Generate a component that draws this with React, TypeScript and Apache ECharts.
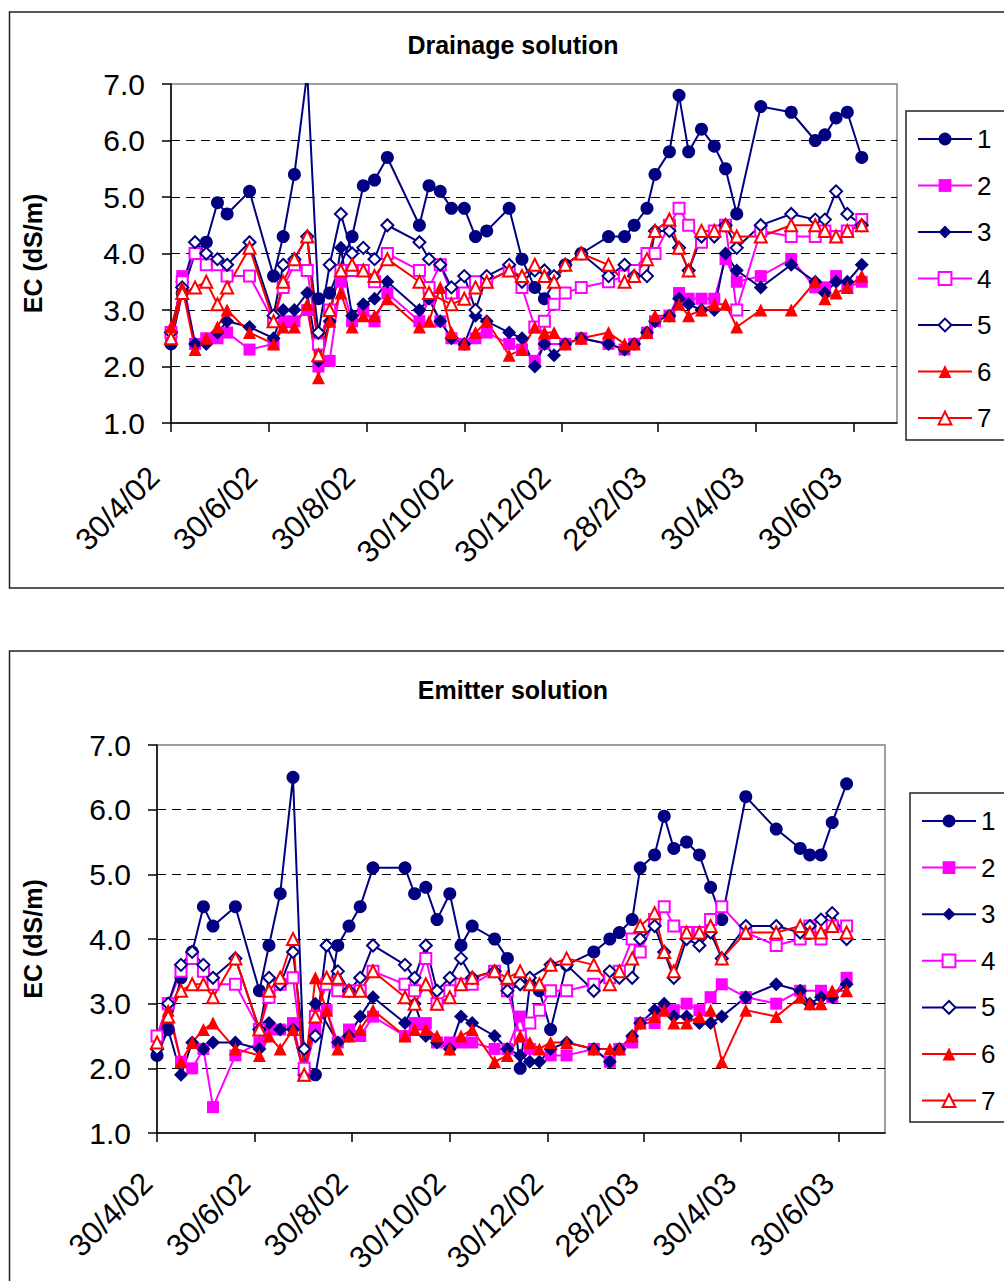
import React, { useEffect, useRef } from "react";
import * as echarts from "echarts";

// Sampling days, counted from 30/4/02
const DAYS = [0, 7, 15, 22, 29, 35, 49, 64, 70, 77, 85, 92, 99, 106, 113, 120, 127, 135, 155, 161, 168, 175, 183, 190, 197, 211, 219, 227, 233, 239, 246, 256, 273, 283, 289, 297, 302, 311, 317, 323, 331, 339, 346, 353, 368, 387, 402, 408, 415, 422, 431];

// Date ticks (days from 30/4/02) and their labels
const TICK_DAYS = [0, 61, 122, 183, 244, 304, 365, 426];
const TICK_LABELS = ["30/4/02", "30/6/02", "30/8/02", "30/10/02", "30/12/02", "28/2/03", "30/4/03", "30/6/03"];

const SERIES_NAMES = ["1", "2", "3", "4", "5", "6", "7"];

// Drainage solution EC (dS/m)
const DRAIN_1 = [2.4, 3.3, 4.0, 4.2, 4.9, 4.7, 5.1, 3.6, 4.3, 5.4, 7.2, 3.2, 3.3, null, 4.3, 5.2, 5.3, 5.7, 4.5, 5.2, 5.1, 4.8, 4.8, 4.3, 4.4, 4.8, 3.9, 3.4, 3.2, null, 3.8, 4.0, 4.3, 4.3, 4.5, 4.8, 5.4, 5.8, 6.8, 5.8, 6.2, 5.9, 5.5, 4.7, 6.6, 6.5, 6.0, 6.1, 6.4, 6.5, 5.7];
const DRAIN_2 = [2.5, 3.6, 2.4, 2.5, 2.5, 2.6, 2.3, 2.4, 2.8, 2.8, 3.0, 2.0, 2.1, 3.5, 2.8, 3.0, 2.8, 3.3, 2.8, 3.2, 2.8, 2.5, 2.4, 2.5, 2.6, 2.4, 2.3, 2.1, 2.4, null, 2.4, 2.5, 2.4, 2.3, 2.4, 2.6, 2.8, 2.9, 3.3, 3.2, 3.2, 3.2, 3.9, 3.5, 3.6, 3.9, 3.4, 3.4, 3.6, 3.4, 3.5];
const DRAIN_3 = [2.6, 3.5, 2.4, 2.4, 2.6, 2.8, 2.7, 2.5, 3.0, 3.0, 3.3, 2.1, 2.8, 4.1, 2.9, 3.1, 3.2, 3.5, 3.0, 3.2, 2.8, 2.5, 2.4, 2.9, 2.8, 2.6, 2.5, 2.0, 2.4, 2.2, 2.4, 2.5, 2.4, 2.3, 2.4, 2.6, 2.8, 2.9, 3.2, 3.1, 3.0, 3.0, 4.0, 3.7, 3.4, 3.8, 3.5, 3.3, 3.5, 3.5, 3.8];
const DRAIN_4 = [2.6, 3.5, 4.0, 3.8, 3.8, 3.6, 3.6, 2.8, 3.4, 3.8, 3.7, 2.4, 3.0, 3.7, 3.7, 3.7, 3.5, 4.0, 3.7, 3.4, 3.8, 3.3, 3.3, 3.5, 3.5, 3.7, 3.4, 2.7, 2.8, 3.1, 3.3, 3.4, 3.5, 3.6, 3.7, 4.0, 4.0, 4.5, 4.8, 4.5, 4.2, 4.4, 4.5, 3.0, 4.4, 4.3, 4.3, 4.4, 4.3, 4.4, 4.6];
const DRAIN_5 = [2.6, 3.4, 4.2, 4.0, 3.9, 3.8, 4.2, 2.9, 3.8, 3.9, 4.3, 2.6, 3.8, 4.7, 4.0, 4.1, 3.9, 4.5, 4.2, 3.9, 3.8, 3.4, 3.6, 3.0, 3.6, 3.8, 3.5, 3.7, 3.7, 3.6, 3.8, 4.0, 3.6, 3.8, 3.6, 3.6, 4.4, 4.4, 4.1, 3.7, 4.3, 4.3, 4.5, 4.1, 4.5, 4.7, 4.6, 4.6, 5.1, 4.7, 4.5];
const DRAIN_6 = [2.7, 3.4, 2.3, 2.5, 2.7, 3.0, 2.6, 2.4, 2.7, 2.7, 3.1, 1.8, 2.8, 3.3, 2.7, 2.9, 2.9, 3.2, 2.7, 2.8, 3.4, 2.6, 2.4, 2.6, 2.8, 2.2, 2.3, 2.7, 2.6, 2.6, 2.4, 2.5, 2.6, 2.4, 2.4, 2.6, 2.9, 2.9, 3.1, 2.9, 3.0, 3.1, 3.1, 2.7, 3.0, 3.0, 3.5, 3.2, 3.3, 3.4, 3.6];
const DRAIN_7 = [2.5, 3.3, 3.4, 3.5, 3.1, 3.4, 4.1, 2.8, 3.5, 3.9, 4.3, 2.2, 3.0, 3.7, 3.8, 3.7, 3.6, 3.9, 3.5, 3.3, null, 3.1, 3.2, 3.4, 3.5, 3.7, 3.6, 3.8, 3.6, 3.5, 3.8, 4.0, 3.8, 3.5, 3.6, 3.9, 4.4, 4.6, 4.1, 3.7, 4.4, 4.4, 4.5, 4.3, 4.3, 4.5, 4.5, 4.4, 4.3, 4.4, 4.5];

// Emitter solution EC (dS/m)
const EMIT_1 = [2.2, 2.6, 3.4, 3.8, 4.5, 4.2, 4.5, 3.2, 3.9, 4.7, 6.5, 2.0, 1.9, null, 3.9, 4.2, 4.5, 5.1, 5.1, 4.7, 4.8, 4.3, 4.7, 3.9, 4.2, 4.0, 3.7, 2.0, 3.3, 3.2, 2.6, 3.6, 3.8, 4.0, 4.1, 4.3, 5.1, 5.3, 5.9, 5.4, 5.5, 5.3, 4.8, 4.3, 6.2, 5.7, 5.4, 5.3, 5.3, 5.8, 6.4];
const EMIT_2 = [2.5, 3.0, 2.1, 2.0, 2.3, 1.4, 2.2, 2.4, 2.6, 2.6, 2.7, 1.9, 2.6, 2.9, 2.4, 2.6, 2.5, 2.8, 2.5, 2.7, 2.7, 2.4, 2.4, 2.4, 2.4, 2.3, 2.3, 2.8, 2.3, null, 2.2, 2.2, 2.3, 2.1, 2.3, 2.4, 2.7, 2.7, 2.9, 2.9, 3.0, 2.9, 3.1, 3.3, 3.1, 3.0, 3.2, null, 3.2, 3.1, 3.4];
const EMIT_3 = [2.3, 2.6, 1.9, 2.4, 2.3, 2.4, 2.4, 2.3, 2.7, 2.6, 2.6, 1.9, 3.0, null, 2.4, 2.5, 2.8, 3.1, 2.7, 3.0, 2.5, 2.4, 2.3, 2.8, 2.7, 2.5, 2.3, 2.2, 2.1, 2.1, 2.3, 2.4, 2.3, 2.1, 2.3, 2.5, 2.7, 2.9, 3.0, 2.8, 2.8, 2.7, 2.7, 2.8, 3.1, 3.3, 3.2, 3.0, 3.1, 3.1, 3.3];
const EMIT_4 = [2.5, 3.0, 3.5, 3.7, 3.5, 3.3, 3.3, 2.6, 3.1, 3.3, 3.4, 2.0, 2.8, 3.3, 3.2, 3.2, 3.2, 3.5, 3.3, 3.2, 3.7, 3.0, 3.2, 3.3, 3.3, 3.5, 3.2, 2.5, 2.7, 2.9, 3.2, 3.2, 3.3, 3.4, 3.5, 4.0, 3.8, 4.3, 4.5, 4.2, 4.1, 4.1, 4.3, 4.5, 4.1, 3.9, 4.0, 4.2, 4.0, 4.2, 4.2];
const EMIT_5 = [2.3, 3.0, 3.6, 3.8, 3.6, 3.4, 3.7, 2.6, 3.4, 3.3, 3.8, 2.3, 2.5, 3.9, 3.5, 3.2, 3.4, 3.9, 3.6, 3.4, 3.9, 3.2, 3.4, 3.7, 3.4, 3.5, 3.2, 3.3, 3.4, null, 3.6, 3.6, 3.2, 3.5, 3.4, 3.4, 4.0, 4.2, 3.8, 3.4, 4.0, 3.9, 4.1, 3.7, 4.2, 4.2, 4.1, 4.2, 4.3, 4.4, 4.0];
const EMIT_6 = [2.4, 2.9, 2.1, 2.4, 2.6, 2.7, 2.3, 2.2, 2.5, 2.3, 2.6, 1.9, 3.4, 2.9, 2.3, 2.5, 2.6, 2.9, 2.5, 2.6, 2.6, 2.5, 2.3, 2.5, 2.6, 2.1, 2.2, 2.5, 2.4, 2.3, 2.4, 2.4, 2.3, 2.3, 2.3, 2.5, 2.7, 2.8, 2.9, 2.7, 2.7, 2.8, 2.9, 2.1, 2.9, 2.8, 3.1, 3.0, 3.0, 3.2, 3.2];
const EMIT_7 = [2.4, 2.8, 3.2, 3.3, 3.3, 3.1, 3.7, 2.6, 3.2, 3.4, 4.0, 1.9, 2.8, 3.4, 3.4, 3.2, 3.2, 3.5, 3.1, 3.0, 3.3, 3.0, 3.1, 3.3, 3.4, 3.5, 3.4, 3.5, 3.3, 3.3, 3.6, 3.7, 3.6, 3.3, 3.5, 3.7, 4.2, 4.4, 3.8, 3.5, 4.1, 4.1, 4.2, 3.7, 4.1, 4.1, 4.2, 4.1, 4.1, 4.2, 4.1];

const DRAINAGE = [DRAIN_1, DRAIN_2, DRAIN_3, DRAIN_4, DRAIN_5, DRAIN_6, DRAIN_7];
const EMITTER = [EMIT_1, EMIT_2, EMIT_3, EMIT_4, EMIT_5, EMIT_6, EMIT_7];

const NAVY = "#000080";
const MAGENTA = "#FF00FF";
const RED = "#FF0000";
const FONT = "'Liberation Sans', Arial, sans-serif";

const MARKERS = [
  { color: NAVY, symbol: "circle", size: 13 },
  { color: MAGENTA, symbol: "rect", size: 12 },
  { color: NAVY, symbol: "diamond", size: 14 },
  { color: MAGENTA, symbol: "emptyRect", size: 11 },
  { color: NAVY, symbol: "emptyDiamond", size: 12 },
  { color: RED, symbol: "triangle", size: 13 },
  { color: RED, symbol: "emptyTriangle", size: 12 },
];

function toPairs(values: (number | null)[]) {
  const out: [number, number][] = [];
  values.forEach((v, i) => {
    if (v !== null) out.push([DAYS[i], v]);
  });
  return out;
}

function buildSeries(sets: (number | null)[][], axisIndex: number) {
  return sets.map((vals, i) => ({
    name: SERIES_NAMES[i],
    type: "line",
    xAxisIndex: axisIndex,
    yAxisIndex: axisIndex,
    data: toPairs(vals),
    symbol: MARKERS[i].symbol,
    symbolSize: MARKERS[i].size,
    showAllSymbol: true,
    lineStyle: { color: MARKERS[i].color, width: 2 },
    itemStyle: { color: MARKERS[i].color },
    emphasis: { disabled: true },
  }));
}

function xAxis(gridIndex: number, max: number, margin: number, shift: number) {
  return {
    type: "value",
    gridIndex,
    min: 0,
    max,
    axisLine: { show: true, lineStyle: { color: "#000", width: 1.5 } },
    axisTick: { show: true, customValues: TICK_DAYS, length: 9, lineStyle: { color: "#000", width: 1.5 } },
    axisLabel: {
      customValues: TICK_DAYS,
      rotate: 45,
      margin,
      padding: [0, shift, 0, 0],
      fontSize: 31,
      fontFamily: FONT,
      color: "#000",
      formatter: (v: number) => {
        const k = TICK_DAYS.indexOf(Math.round(v));
        return k >= 0 ? TICK_LABELS[k] : "";
      },
    },
    splitLine: { show: false },
  };
}

function yAxis(gridIndex: number, nameGap: number) {
  return {
    type: "value",
    gridIndex,
    min: 1,
    max: 7,
    interval: 1,
    name: "EC (dS/m)",
    nameLocation: "middle",
    nameRotate: 90,
    nameGap,
    nameTextStyle: { fontSize: 25, fontWeight: "bold", fontFamily: FONT, color: "#000" },
    axisLine: { show: true, lineStyle: { color: "#000", width: 1.5 } },
    axisTick: { show: true, length: 9, lineStyle: { color: "#000", width: 1.5 } },
    axisLabel: {
      margin: 26,
      fontSize: 30,
      fontFamily: FONT,
      color: "#000",
      formatter: (v: number) => v.toFixed(1),
    },
    splitLine: {
      show: true,
      showMinLine: false,
      showMaxLine: false,
      lineStyle: { color: "#000", width: 1, type: [9, 6] },
    },
  };
}

function legend(left: number, top: number, gap: number) {
  return {
    orient: "vertical",
    left,
    top,
    padding: 0,
    itemWidth: 54,
    itemHeight: 16,
    itemGap: gap,
    data: SERIES_NAMES,
    selectedMode: false,
    textStyle: { fontSize: 26, lineHeight: 26, fontFamily: FONT, color: "#000" },
  };
}

function titleText(text: string, x: number, y: number) {
  return {
    type: "text",
    x,
    y,
    style: {
      text,
      fill: "#000",
      font: `bold 25px ${FONT}`,
      align: "center",
      verticalAlign: "middle",
    },
  };
}

function frame(x: number, y: number, w: number, h: number, lw: number) {
  return {
    type: "rect",
    shape: { x, y, width: w, height: h },
    style: { fill: "none", stroke: "#222", lineWidth: lw },
    silent: true,
  };
}

export default function App() {
  const ref = useRef<HTMLDivElement>(null);

  useEffect(() => {
    if (!ref.current) return;
    const chart = echarts.init(ref.current, null, { renderer: "svg" });
    chart.setOption({
      animation: false,
      backgroundColor: "#fff",
      textStyle: { fontFamily: FONT },
      grid: [
        { left: 171, top: 84, width: 726, height: 339, show: true, borderColor: "#808080", borderWidth: 1.5, backgroundColor: "transparent" },
        { left: 157, top: 745, width: 728, height: 388, show: true, borderColor: "#808080", borderWidth: 1.5, backgroundColor: "transparent" },
      ],
      xAxis: [xAxis(0, 453, 32, 24), xAxis(1, 455, 35, 14)],
      yAxis: [yAxis(0, 126), yAxis(1, 112)],
      legend: [legend(917, 126, 20.5), legend(921, 808, 20.6)],
      graphic: [
        frame(9.5, 12, 1100, 576, 1.5),
        frame(9.5, 651, 1100, 700, 1.5),
        frame(906, 111, 200, 329, 1.5),
        frame(910, 793, 200, 329, 1.5),
        titleText("Drainage solution", 513, 45),
        titleText("Emitter solution", 513, 690),
      ],
      series: [...buildSeries(DRAINAGE, 0), ...buildSeries(EMITTER, 1)],
    });
    return () => chart.dispose();
  }, []);

  return (
    <div
      ref={ref}
      style={{ position: "absolute", left: 0, top: 0, width: 1004, height: 1281, background: "#fff" }}
    />
  );
}
